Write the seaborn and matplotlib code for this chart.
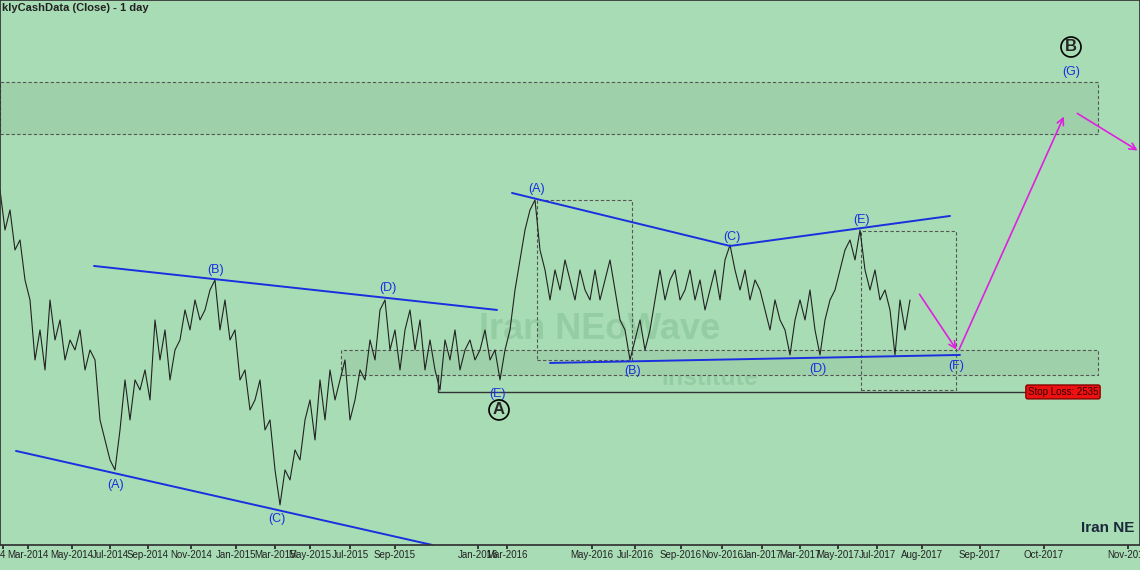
import matplotlib
matplotlib.use("Agg")
import matplotlib.pyplot as plt
import numpy as np
import seaborn as sns
from matplotlib.patches import Rectangle

# daily close, one reading every 5 bars
close = [2939, 2859, 2899, 2819, 2839, 2759, 2719, 2599, 2659, 2579, 2719, 2639, 2679, 2599,
         2639, 2619, 2659, 2579, 2619, 2599, 2479, 2439, 2399, 2379, 2459, 2559, 2479, 2559,
         2539, 2579, 2519, 2679, 2599, 2659, 2559, 2619, 2639, 2699, 2659, 2719, 2679, 2699,
         2739, 2759, 2659, 2719, 2639, 2659, 2559, 2579, 2499, 2519, 2559, 2459, 2479, 2379,
         2309, 2379, 2359, 2419, 2399, 2479, 2519, 2439, 2559, 2479, 2579, 2519, 2559, 2599,
         2479, 2519, 2579, 2559, 2639, 2599, 2699, 2719, 2619, 2659, 2579, 2659, 2699, 2619,
         2679, 2579, 2639, 2579, 2539, 2639, 2599, 2659, 2579, 2619, 2639, 2599, 2619, 2659,
         2599, 2619, 2559, 2619, 2659, 2739, 2799, 2859, 2899, 2919, 2819, 2779, 2719, 2779,
         2739, 2799, 2759, 2719, 2779, 2739, 2719, 2779, 2719, 2759, 2799, 2739, 2679, 2659,
         2599, 2639, 2679, 2619, 2659, 2719, 2779, 2719, 2759, 2779, 2719, 2739, 2779, 2719,
         2759, 2699, 2739, 2779, 2719, 2799, 2829, 2779, 2739, 2779, 2719, 2759, 2739, 2699,
         2659, 2719, 2679, 2659, 2609, 2679, 2719, 2679, 2739, 2659, 2609, 2679, 2719, 2739,
         2779, 2819, 2839, 2799, 2859, 2779, 2739, 2779, 2719, 2739, 2699, 2609, 2719, 2659, 2719]
tick_pos = [3, 28, 72, 110, 148, 191, 236, 275, 310, 350, 395, 478, 507, 592, 635, 681,
            722, 762, 800, 838, 877, 922, 980, 1044, 1128]
tick_labels = ["4", "Mar-2014", "May-2014", "Jul-2014", "Sep-2014", "Nov-2014", "Jan-2015",
               "Mar-2015", "May-2015", "Jul-2015", "Sep-2015", "Jan-2016", "Mar-2016",
               "May-2016", "Jul-2016", "Sep-2016", "Nov-2016", "Jan-2017", "Mar-2017",
               "May-2017", "Jul-2017", "Aug-2017", "Sep-2017", "Oct-2017", "Nov-2017"]
stop_loss = 2535

bg = "#a8dcb4"
sns.set_theme(style="white")
plt.rcParams["font.family"] = ["Liberation Sans", "DejaVu Sans"]
fig = plt.figure(figsize=(11.4, 5.7), dpi=100, facecolor=bg)
ax = fig.add_axes([0, 0.044, 1, 0.956], facecolor=bg)

bars = np.arange(len(close)) * 5
sns.lineplot(x=bars, y=close, ax=ax, color="#222222", linewidth=0.8)

def P(py):  # pixel row -> price level
    return 3319 - 2 * py

ax.set_xlim(0, 1140)
ax.set_ylim(P(545), P(0))
ax.set_yticks([])
ax.set_xticks(tick_pos)
ax.set_xticklabels(tick_labels, fontsize=7, color="#222222")
ax.tick_params(axis="x", length=3, pad=1, direction="out", bottom=True)
for s in ax.spines.values():
    s.set_color("#333333")

def box(x0, x1, y0, y1, fill=None):
    ax.add_patch(Rectangle((x0, P(y1)), x1 - x0, P(y0) - P(y1), fill=fill is not None,
                           facecolor=fill, edgecolor="#555555", linestyle=(0, (3, 2)), lw=0.8))

box(0, 1098, 82, 134, "#9ed1aa")
box(341, 1098, 350, 375, "#9ed1aa")
box(537, 632, 200, 360)
box(861, 956, 231, 390)

blue = "#1a2fe0"
for (x0, y0), (x1, y1) in [((16, 451), (432, 545)), ((94, 266), (497, 310)),
                           ((512, 193), (730, 246)), ((730, 246), (950, 216)),
                           ((550, 363), (960, 355))]:
    ax.plot([x0, x1], [P(y0), P(y1)], color=blue, lw=1.4)

ax.plot([438, 438, 1025], [P(375), stop_loss, stop_loss], color="#333333", lw=1)
ax.text(1063, stop_loss, "Stop Loss: 2535", ha="center", va="center", fontsize=7, color="#330000",
        bbox=dict(boxstyle="round,pad=0.2", fc="#ee1111", ec="#880000"))

for (x0, y0), (x1, y1) in [((918, 292), (958, 352)), ((958, 352), (1065, 114)),
                           ((1075, 112), (1140, 152))]:
    ax.annotate("", xy=(x1, P(y1)), xytext=(x0, P(y0)),
                arrowprops=dict(arrowstyle="->", color="#e020e0", lw=1.2))

labels = [("(A)", 116, 485), ("(B)", 216, 270), ("(C)", 277, 519), ("(D)", 388, 288),
          ("(E)", 498, 394), ("(A)", 537, 189), ("(B)", 633, 371), ("(C)", 732, 237),
          ("(D)", 818, 369), ("(E)", 862, 220), ("(F)", 956, 366), ("(G)", 1071, 72)]
for t, x, y in labels:
    ax.text(x, P(y), t, color=blue, fontsize=9, ha="center", va="center")

for t, x, y in [("A", 499, 410), ("B", 1071, 47)]:
    ax.text(x, P(y), t, fontsize=12, fontweight="bold", ha="center", va="center",
            bbox=dict(boxstyle="circle,pad=0.15", fc="none", ec="black", lw=1.2))

ax.text(600, P(330), "Iran NEoWave", fontsize=26, fontweight="bold", color="#8ec79c",
        ha="center", va="center", alpha=0.7, zorder=0)
ax.text(710, P(378), "Institute", fontsize=18, fontweight="bold", color="#8ec79c",
        ha="center", va="center", alpha=0.7, zorder=0)
ax.text(1081, P(528), "Iran NE", fontsize=11, fontweight="bold", color="#1a2a3a",
        ha="left", va="center", clip_on=True)
ax.text(2, P(8), "klyCashData (Close) - 1 day", fontsize=8, fontweight="bold",
        color="#222222", va="center")

fig.savefig("out.png", dpi=100, facecolor=bg)
